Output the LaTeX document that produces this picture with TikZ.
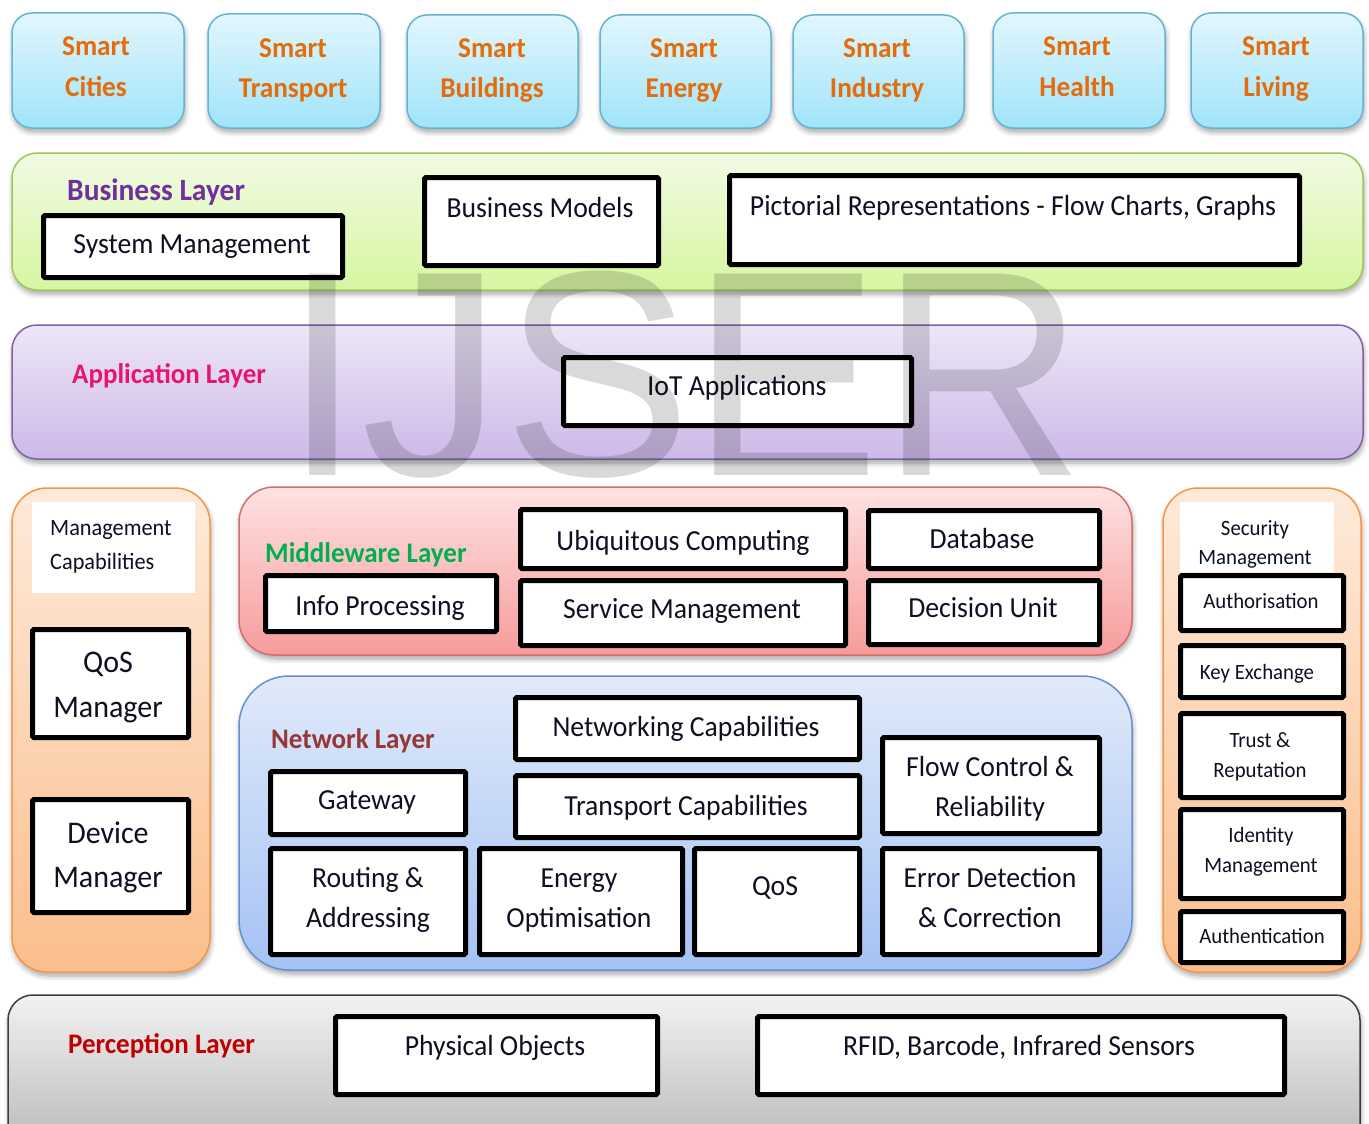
\documentclass[tikz,border=0pt]{standalone}
\usepackage{fontspec}
\setmainfont{Carlito}
\newfontfamily\wmfont{Liberation Sans}
\usetikzlibrary{fit,shadows.blur}

\definecolor{topA}{RGB}{226,246,253}
\definecolor{topB}{RGB}{160,228,250}
\definecolor{topD}{RGB}{100,180,210}
\definecolor{orTxt}{RGB}{228,108,10}
\definecolor{bizA}{RGB}{242,250,228}
\definecolor{bizB}{RGB}{214,246,160}
\definecolor{bizD}{RGB}{155,200,90}
\definecolor{appA}{RGB}{237,230,247}
\definecolor{appB}{RGB}{205,185,232}
\definecolor{appD}{RGB}{128,100,162}
\definecolor{pnlA}{RGB}{253,234,218}
\definecolor{pnlB}{RGB}{251,190,140}
\definecolor{pnlD}{RGB}{247,150,70}
\definecolor{midA}{RGB}{255,226,226}
\definecolor{midB}{RGB}{247,155,155}
\definecolor{midD}{RGB}{210,110,110}
\definecolor{netA}{RGB}{224,234,250}
\definecolor{netB}{RGB}{165,194,244}
\definecolor{netD}{RGB}{100,145,210}
\definecolor{perA}{RGB}{242,242,242}
\definecolor{perB}{RGB}{185,185,185}
\definecolor{perD}{RGB}{60,60,60}
\definecolor{inkc}{RGB}{15,15,35}
\definecolor{bizTxt}{RGB}{112,48,160}
\definecolor{appTxt}{RGB}{232,20,110}
\definecolor{midTxt}{RGB}{0,176,80}
\definecolor{netTxt}{RGB}{149,55,53}
\definecolor{perTxt}{RGB}{192,0,0}

\newcommand{\fSmart}{\fontsize{27.3}{31}\selectfont\bfseries}
\newcommand{\fLay}{\fontsize{27}{32}\selectfont\bfseries}
\newcommand{\fBiz}{\fontsize{29.5}{33}\selectfont\bfseries}
\newcommand{\fBody}{\fontsize{27.7}{32}\selectfont}
\newcommand{\fBig}{\fontsize{30}{34}\selectfont}
\newcommand{\fSm}{\fontsize{22.3}{26}\selectfont}
\newcommand{\fXs}{\fontsize{20.8}{24}\selectfont}

\tikzset{
  layer/.style={inner sep=0pt, line width=1.5pt,
    blur shadow={shadow xshift=1pt, shadow yshift=-4pt, shadow blur steps=6,
      shadow opacity=35, shadow blur radius=5pt}},
  topbox/.style={layer, rounded corners=20pt, draw=topD, top color=topA, bottom color=topB},
  ibox/.style={draw=black, line width=5pt, fill=white, inner sep=0pt, rounded corners=1.5pt},
  wbox/.style={fill=white, inner sep=0pt},
  txt/.style={anchor=base, inner sep=0pt, text=inkc, font=\fBody},
}

% box from outer edges
\newcommand{\ibx}[5]{\node[ibox, fit={(#2+2.5,#3+2.5) (#4-2.5,#5-2.5)}] (#1) {};}
% text line at baseline
\newcommand{\tx}[5][]{\node[txt,#1] (#2) at (#3,#4) {\scalebox{1}[1.05]{#5}};}

\begin{document}
\begin{tikzpicture}[x=1pt,y=-1pt]
\useasboundingbox (0,0) rectangle (1369,1124);

% ---------- top application domains ----------
\node[topbox, fit={(12,13) (184,128)}] (c1) {};
\node[topbox, fit={(208,14) (380,128)}] (c2) {};
\node[topbox, fit={(407,15) (578,128)}] (c3) {};
\node[topbox, fit={(600,15) (771,128)}] (c4) {};
\node[topbox, fit={(793,15) (964,128)}] (c5) {};
\node[topbox, fit={(993,13) (1165,128)}] (c6) {};
\node[topbox, fit={(1191,13) (1363,128)}] (c7) {};
\tx[font=\fSmart, text=orTxt]{c1a}{96}{56}{Smart}
\tx[font=\fSmart, text=orTxt]{c1b}{96}{96}{Cities}
\tx[font=\fSmart, text=orTxt]{c2a}{293}{58}{Smart}
\tx[font=\fSmart, text=orTxt]{c2b}{293}{98}{Transport}
\tx[font=\fSmart, text=orTxt]{c3a}{492}{58}{Smart}
\tx[font=\fSmart, text=orTxt]{c3b}{492}{98}{Buildings}
\tx[font=\fSmart, text=orTxt]{c4a}{684}{58}{Smart}
\tx[font=\fSmart, text=orTxt]{c4b}{684}{98}{Energy}
\tx[font=\fSmart, text=orTxt]{c5a}{877}{58}{Smart}
\tx[font=\fSmart, text=orTxt]{c5b}{877}{98}{Industry}
\tx[font=\fSmart, text=orTxt]{c6a}{1077}{56}{Smart}
\tx[font=\fSmart, text=orTxt]{c6b}{1077}{96}{Health}
\tx[font=\fSmart, text=orTxt]{c7a}{1276}{56}{Smart}
\tx[font=\fSmart, text=orTxt]{c7b}{1276}{96}{Living}

% ---------- business layer ----------
\node[layer, rounded corners=25pt, draw=bizD, top color=bizA, bottom color=bizB,
      fit={(12,153) (1363,290)}] (biz) {};
\tx[anchor=base west, font=\fBiz, text=bizTxt]{bizT}{67}{200}{Business Layer}
\ibx{sysm}{41}{213}{345}{280}
\tx{sysmT}{192}{253}{System Management}
\ibx{bmod}{422}{175}{661}{268}
\tx{bmodT}{540}{217}{Business Models}
\ibx{pict}{727}{173}{1302}{267}
\tx{pictT}{1013}{215}{Pictorial Representations - Flow Charts, Graphs}

% ---------- application layer ----------
\node[layer, rounded corners=25pt, draw=appD, top color=appA, bottom color=appB,
      fit={(12,325) (1363,459)}] (app) {};
\tx[anchor=base west, font=\fLay, text=appTxt]{appT}{72}{383}{Application Layer}
\ibx{iot}{561}{355}{914}{428}
\tx{iotT}{737}{395}{IoT Applications}

% ---------- management capabilities (left) ----------
\node[layer, rounded corners=35pt, draw=pnlD, top color=pnlA, bottom color=pnlB,
      fit={(12,488) (210,972)}] (mgmt) {};
\node[wbox, fit={(32,502) (195,593)}] (mgmtW) {};
\tx[anchor=base west, font=\fSm]{mgmtT1}{50}{535}{Management}
\tx[anchor=base west, font=\fSm]{mgmtT2}{50}{569}{Capabilities}
\ibx{qosm}{30}{627}{191}{740}
\tx[font=\fBig]{qosmT1}{108}{672}{QoS}
\tx[font=\fBig]{qosmT2}{108}{717}{Manager}
\ibx{devm}{30}{797}{191}{915}
\tx[font=\fBig]{devmT1}{108}{843}{Device}
\tx[font=\fBig]{devmT2}{108}{887}{Manager}

% ---------- security management (right) ----------
\node[layer, rounded corners=35pt, draw=pnlD, top color=pnlA, bottom color=pnlB,
      fit={(1163,488) (1361,972)}] (sec) {};
\node[wbox, fit={(1180,502) (1334,572)}] (secW) {};
\tx[font=\fXs]{secT1}{1255}{535}{Security}
\tx[font=\fXs]{secT2}{1255}{564}{Management}
\ibx{auz}{1178}{573}{1346}{633}
\tx[font=\fXs]{auzT}{1261}{608}{Authorisation}
\ibx{key}{1178}{643}{1346}{700}
\tx[font=\fXs]{keyT}{1257}{679}{Key Exchange}
\ibx{trust}{1178}{711}{1346}{800}
\tx[font=\fXs]{trustT1}{1260}{747}{Trust \&}
\tx[font=\fXs]{trustT2}{1260}{777}{Reputation}
\ibx{ident}{1178}{807}{1346}{901}
\tx[font=\fXs]{identT1}{1261}{842}{Identity}
\tx[font=\fXs]{identT2}{1261}{872}{Management}
\ibx{authn}{1178}{909}{1346}{965}
\tx[font=\fXs]{authnT}{1262}{943}{Authentication}

% ---------- middleware layer ----------
\node[layer, rounded corners=35pt, draw=midD, top color=midA, bottom color=midB,
      fit={(239,487) (1132,655)}] (mid) {};
\tx[anchor=base west, font=\fLay, text=midTxt]{midT}{265}{562}{Middleware Layer}
\ibx{info}{263}{573}{499}{634}
\tx{infoT}{380}{615}{Info Processing}
\ibx{ubiq}{518}{507}{848}{571}
\tx{ubiqT}{683}{550}{Ubiquitous Computing}
\ibx{serv}{518}{578}{848}{648}
\tx{servT}{682}{618}{Service Management}
\ibx{dbase}{866}{508}{1102}{571}
\tx{dbaseT}{982}{548}{Database}
\ibx{decu}{866}{578}{1102}{647}
\tx{decuT}{983}{617}{Decision Unit}

% ---------- network layer ----------
\node[layer, rounded corners=50pt, draw=netD, top color=netA, bottom color=netB,
      fit={(239,676) (1132,970)}] (net) {};
\tx[anchor=base west, font=\fLay, text=netTxt]{netT}{271}{748}{Network Layer}
\ibx{ncap}{513}{695}{862}{762}
\tx{ncapT}{686}{736}{Networking Capabilities}
\ibx{gate}{268}{769}{468}{837}
\tx{gateT}{367}{809}{Gateway}
\ibx{tcap}{513}{773}{862}{840}
\tx{tcapT}{686}{815}{Transport Capabilities}
\ibx{flow}{880}{735}{1102}{836}
\tx{flowT1}{990}{776}{Flow Control \&}
\tx{flowT2}{990}{816}{Reliability}
\ibx{rout}{268}{846}{468}{957}
\tx{routT1}{368}{887}{Routing \&}
\tx{routT2}{368}{927}{Addressing}
\ibx{enrg}{477}{846}{685}{957}
\tx{enrgT1}{579}{887}{Energy}
\tx{enrgT2}{579}{927}{Optimisation}
\ibx{qosn}{692}{846}{862}{957}
\tx{qosnT}{775}{895}{QoS}
\ibx{errd}{880}{846}{1102}{957}
\tx{errdT1}{990}{887}{Error Detection}
\tx{errdT2}{990}{927}{\& Correction}

% ---------- perception layer ----------
\node[layer, rounded corners=25pt, draw=perD, top color=perA, bottom color=perB,
      fit={(8,995) (1360,1150)}] (per) {};
\tx[anchor=base west, font=\fLay, text=perTxt]{perT}{68}{1053}{Perception Layer}
\ibx{phys}{333}{1014}{660}{1097}
\tx{physT}{495}{1055}{Physical Objects}
\ibx{rfid}{755}{1014}{1287}{1097}
\tx{rfidT}{1019}{1055}{RFID, Barcode, Infrared Sensors}

% ---------- watermark ----------
\node[anchor=base west, inner sep=0pt, text=black, text opacity=0.15,
      font=\wmfont\fontsize{293}{300}\selectfont] (wm) at (283,475)
      {\scalebox{0.965}[1]{IJSER}};
\end{tikzpicture}
\end{document}
